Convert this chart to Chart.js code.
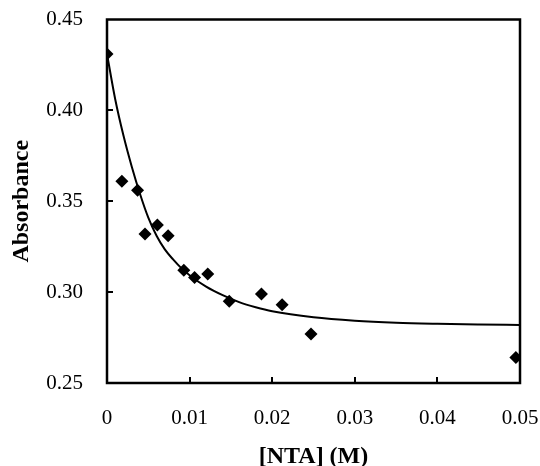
<!DOCTYPE html>
<html>
<head>
<meta charset="utf-8">
<script src="https://cdn.jsdelivr.net/npm/chart.js@4/dist/chart.umd.min.js"></script>
<style>
  html, body { margin: 0; padding: 0; background: #fff; }
  #wrap { width: 540px; height: 466px; position: relative; }
</style>
</head>
<body>
<div id="wrap"><canvas id="c" width="540" height="466"></canvas></div>
<script>
// Measured data points: [NTA] (M) vs Absorbance
const ntaConc = [0, 0.0018, 0.0037, 0.0046, 0.0061, 0.0074, 0.0093, 0.0106, 0.0122, 0.0148, 0.0187, 0.0212, 0.0247, 0.0495];
const absorbance = [0.431, 0.361, 0.356, 0.332, 0.337, 0.331, 0.312, 0.308, 0.310, 0.295, 0.299, 0.293, 0.277, 0.264];

// Fitted curve
const fitX = [0, 0.001, 0.002, 0.003, 0.004, 0.005, 0.006, 0.007, 0.008, 0.009, 0.010, 0.012, 0.014, 0.016, 0.018, 0.020, 0.025, 0.030, 0.035, 0.040, 0.045, 0.050];
const fitY = [0.431, 0.406, 0.386, 0.369, 0.354, 0.341, 0.331, 0.3235, 0.318, 0.3132, 0.3093, 0.303, 0.2983, 0.2945, 0.2917, 0.2895, 0.2862, 0.2843, 0.2832, 0.2826, 0.2822, 0.2819];

// Tick labels
const xTickLabels = ["0", "0.01", "0.02", "0.03", "0.04", "0.05"];
const yTickLabels = ["0.25", "0.30", "0.35", "0.40", "0.45"];

const FONT = "'Liberation Serif', 'Times New Roman', serif";

const frame = {
  id: 'frame',
  afterDatasetsDraw(chart) {
    const ctx = chart.ctx, a = chart.chartArea;
    const xs = chart.scales.x, ys = chart.scales.y;
    ctx.save();
    ctx.strokeStyle = '#000';
    ctx.lineWidth = 2;
    // inward tick marks
    ctx.beginPath();
    xs.ticks.forEach((t, i) => {
      if (i === 0 || i === xs.ticks.length - 1) return;
      const px = Math.round(xs.getPixelForValue(t.value));
      ctx.moveTo(px, a.bottom);
      ctx.lineTo(px, a.bottom - 6);
    });
    ys.ticks.forEach((t, i) => {
      if (i === 0 || i === ys.ticks.length - 1) return;
      const py = Math.round(ys.getPixelForValue(t.value));
      ctx.moveTo(a.left, py);
      ctx.lineTo(a.left + 6, py);
    });
    ctx.stroke();
    ctx.lineWidth = 2.5;
    ctx.strokeRect(a.left, a.top, a.right - a.left, a.bottom - a.top);
    ctx.restore();
  }
};

new Chart(document.getElementById('c'), {
  type: 'scatter',
  data: {
    datasets: [
      {
        label: 'data',
        data: ntaConc.map((x, i) => ({ x: x, y: absorbance[i] })),
        pointStyle: 'rectRot',
        pointRadius: 6.5,
        backgroundColor: '#000',
        borderColor: '#000',
        borderWidth: 0,
        showLine: false,
        order: 0
      },
      {
        label: 'fit',
        data: fitX.map((x, i) => ({ x: x, y: fitY[i] })),
        showLine: true,
        pointRadius: 0,
        borderColor: '#000',
        borderWidth: 2,
        cubicInterpolationMode: 'monotone',
        fill: false,
        order: 1
      }
    ]
  },
  options: {
    responsive: false,
    animation: false,
    devicePixelRatio: 1,
    layout: { padding: { top: 19.5, right: 20, left: 0, bottom: 0 } },
    plugins: { legend: { display: false }, tooltip: { enabled: false } },
    scales: {
      x: {
        type: 'linear',
        min: 0, max: 0.05,
        afterBuildTicks(s) { s.ticks = xTickLabels.map(v => ({ value: parseFloat(v) })); },
        afterFit(s) { s.height = 83; s.paddingLeft = 0; s.paddingRight = 0; s.paddingTop = 0; s.paddingBottom = 0; },
        grid: { display: false, drawTicks: false },
        border: { display: false },
        ticks: {
          padding: 23,
          color: '#000',
          font: { family: FONT, size: 21 },
          maxRotation: 0,
          callback: (v, i) => xTickLabels[i]
        },
        title: {
          display: true,
          text: '[NTA] (M)',
          color: '#000',
          font: { family: FONT, size: 24, weight: 'bold' },
          padding: { top: 0, bottom: -5 }
        }
      },
      y: {
        type: 'linear',
        min: 0.25, max: 0.45,
        afterBuildTicks(s) { s.ticks = yTickLabels.map(v => ({ value: parseFloat(v) })); },
        afterFit(s) { s.width = 107; s.paddingLeft = 0; s.paddingRight = 0; s.paddingTop = 0; s.paddingBottom = 0; },
        grid: { display: false, drawTicks: false },
        border: { display: false },
        ticks: {
          padding: 24,
          color: '#000',
          font: { family: FONT, size: 21 },
          callback: (v, i) => yTickLabels[i]
        },
        title: {
          display: true,
          text: 'Absorbance',
          color: '#000',
          font: { family: FONT, size: 24, weight: 'bold' },
          padding: { top: 7, bottom: 0 }
        }
      }
    }
  },
  plugins: [frame]
});
</script>
</body>
</html>
